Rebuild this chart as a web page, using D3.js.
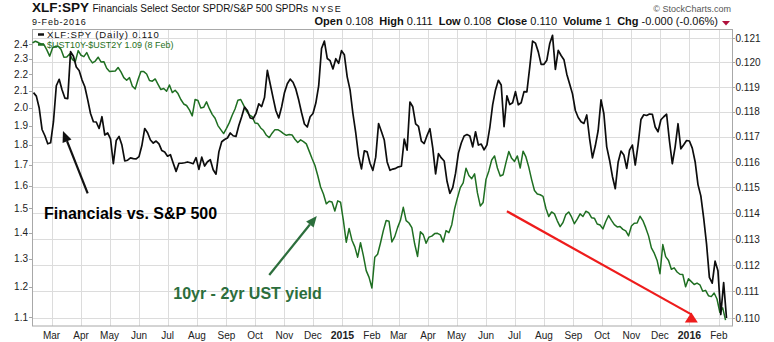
<!DOCTYPE html>
<html>
<head>
<meta charset="utf-8">
<script src="https://cdn.jsdelivr.net/npm/d3@7"></script>
<style>
  html, body { margin: 0; padding: 0; background: #fff; }
  svg { display: block; }
  text { font-family: "Liberation Sans", Arial, Helvetica, sans-serif; }
</style>
</head>
<body>
<svg id="chart" width="774" height="342"></svg>
<script>
// ---- data -------------------------------------------------------------
// Samples every 3 calendar days, counted back from the last date of each series.
const stepDays = 3;
const ratioEnd = "2016-02-09";   // XLF:SPY, right axis
const spreadEnd = "2016-02-08";  // $UST10Y-$UST2Y, left axis

const ratioValues = [
  0.11877, 0.11863, 0.11815, 0.11729, 0.11704, 0.11672, 0.11676, 0.1176, 0.11905, 0.11931,
  0.11889, 0.11855, 0.11853, 0.12044, 0.12025, 0.11981, 0.11967, 0.11929, 0.11901, 0.11849,
  0.11793, 0.1176, 0.11759, 0.11733, 0.1178, 0.11707, 0.11715, 0.11692, 0.11593, 0.11685,
  0.11701, 0.11667, 0.11604, 0.11607, 0.11616, 0.11613, 0.11612, 0.11621, 0.11665, 0.11733,
  0.11716, 0.11687, 0.11675, 0.11683, 0.11672, 0.11645, 0.11639, 0.11623, 0.11629, 0.11595,
  0.11563, 0.11595, 0.11595, 0.11597, 0.116, 0.11597, 0.11593, 0.11617, 0.11571, 0.11619,
  0.11584, 0.11601, 0.11609, 0.11569, 0.11552, 0.1164, 0.1168, 0.11689, 0.11695, 0.11715,
  0.11704, 0.11701, 0.11745, 0.1178, 0.11819, 0.11805, 0.11775, 0.11772, 0.11793, 0.11832,
  0.11821, 0.11857, 0.11967, 0.11912, 0.11857, 0.11804, 0.11775, 0.11819, 0.11877, 0.11913,
  0.11932, 0.11919, 0.11891, 0.11847, 0.11796, 0.11751, 0.11739, 0.1178, 0.11793, 0.11835,
  0.11904, 0.12057, 0.12087, 0.12016, 0.12007, 0.11973, 0.12015, 0.11996, 0.12048, 0.12031,
  0.11941, 0.11888, 0.11793, 0.11715, 0.11623, 0.11573, 0.11644, 0.1164, 0.11595, 0.11567,
  0.11619, 0.11753, 0.11721, 0.11687, 0.116, 0.11567, 0.11572, 0.11575, 0.11581, 0.11583,
  0.11691, 0.11647, 0.11839, 0.1182, 0.11751, 0.11741, 0.11683, 0.11673, 0.11705, 0.11732,
  0.11656, 0.11553, 0.11633, 0.11616, 0.11604, 0.11524, 0.11477, 0.11499, 0.11556, 0.11635,
  0.11675, 0.11703, 0.11709, 0.11703, 0.1166, 0.1172, 0.11667, 0.11671, 0.11648, 0.11668,
  0.11736, 0.11828, 0.11888, 0.11927, 0.11908, 0.1174, 0.11864, 0.11829, 0.11836, 0.11881,
  0.11828, 0.11836, 0.11881, 0.1188, 0.1198, 0.12087, 0.12079, 0.12043, 0.11992, 0.11992,
  0.12009, 0.12076, 0.12111, 0.11971, 0.12049, 0.12028, 0.12011, 0.11952, 0.11912, 0.11872,
  0.11805, 0.11777, 0.1176, 0.11753, 0.11787, 0.11692, 0.11616, 0.11664, 0.11725, 0.11848,
  0.11792, 0.1166, 0.11607, 0.11543, 0.11495, 0.11599, 0.11643, 0.11628, 0.11575, 0.11647,
  0.11667, 0.11588, 0.11669, 0.11769, 0.11788, 0.11785, 0.11791, 0.1179, 0.11739, 0.1172,
  0.11768, 0.1178, 0.1179, 0.11683, 0.11593, 0.1166, 0.11752, 0.11652, 0.11668, 0.11685,
  0.11683, 0.11655, 0.11601, 0.11511, 0.11467, 0.1138, 0.11281, 0.11153, 0.11131, 0.11215,
  0.11178, 0.11013, 0.11133, 0.110
];

const spreadValues = [
  2.407, 2.419, 2.410, 2.400, 2.396, 2.360, 2.318, 2.373, 2.384, 2.384,
  2.362, 2.311, 2.313, 2.333, 2.295, 2.282, 2.355, 2.324, 2.315, 2.342,
  2.300, 2.274, 2.286, 2.311, 2.280, 2.282, 2.239, 2.218, 2.220, 2.222,
  2.244, 2.216, 2.180, 2.164, 2.180, 2.127, 2.111, 2.168, 2.218, 2.218,
  2.203, 2.162, 2.158, 2.172, 2.139, 2.107, 2.113, 2.097, 2.135, 2.089,
  2.103, 2.083, 2.048, 2.022, 2.013, 1.988, 1.954, 2.048, 2.042, 1.999,
  2.003, 2.034, 1.995, 1.963, 1.941, 1.901, 1.879, 1.858, 1.886, 1.917,
  1.958, 1.993, 2.044, 2.048, 2.015, 1.982, 1.960, 1.950, 1.915, 1.912,
  1.888, 1.874, 1.849, 1.837, 1.860, 1.879, 1.879, 1.870, 1.858, 1.849,
  1.853, 1.851, 1.828, 1.811, 1.825, 1.816, 1.804, 1.767, 1.730, 1.697,
  1.648, 1.595, 1.563, 1.520, 1.531, 1.528, 1.489, 1.533, 1.527, 1.449,
  1.362, 1.417, 1.370, 1.344, 1.305, 1.360, 1.311, 1.256, 1.232, 1.195,
  1.305, 1.316, 1.359, 1.408, 1.449, 1.446, 1.363, 1.384, 1.420, 1.450,
  1.505, 1.449, 1.439, 1.420, 1.355, 1.308, 1.403, 1.392, 1.358, 1.382,
  1.386, 1.396, 1.397, 1.391, 1.363, 1.408, 1.400, 1.432, 1.499, 1.547,
  1.592, 1.614, 1.683, 1.648, 1.633, 1.656, 1.568, 1.511, 1.526, 1.630,
  1.670, 1.723, 1.743, 1.684, 1.646, 1.652, 1.710, 1.765, 1.731, 1.716,
  1.743, 1.684, 1.767, 1.738, 1.688, 1.629, 1.579, 1.563, 1.560, 1.553,
  1.501, 1.466, 1.485, 1.477, 1.448, 1.424, 1.441, 1.474, 1.485, 1.464,
  1.436, 1.455, 1.477, 1.466, 1.488, 1.482, 1.461, 1.459, 1.435, 1.431,
  1.415, 1.445, 1.470, 1.450, 1.432, 1.423, 1.425, 1.413, 1.407, 1.387,
  1.427, 1.438, 1.439, 1.467, 1.449, 1.420, 1.387, 1.340, 1.320, 1.293,
  1.245, 1.353, 1.307, 1.293, 1.261, 1.266, 1.251, 1.243, 1.242, 1.199,
  1.227, 1.217, 1.207, 1.212, 1.206, 1.184, 1.187, 1.169, 1.166, 1.178,
  1.158, 1.115, 1.129, 1.09
];

const rightTicks = [0.110, 0.111, 0.112, 0.113, 0.114, 0.115, 0.116, 0.117, 0.118, 0.119, 0.120, 0.121];
const leftTicks = [1.1, 1.2, 1.3, 1.4, 1.5, 1.6, 1.7, 1.8, 1.9, 2.0, 2.1, 2.2, 2.3, 2.4];

const quote = [
  ["Open", "0.108"], ["High", "0.111"], ["Low", "0.108"],
  ["Close", "0.110"], ["Volume", "1"], ["Chg", "-0.000 (-0.06%)"]
];

// Call-outs, placed in (date, XLF:SPY value) terms
const notes = [
  { text: "Financials vs. S&P 500", date: "2014-02-21", value: 0.11376, color: "#000000" },
  { text: "10yr - 2yr UST yield", date: "2014-07-07", value: 0.11071, color: "#2c6e3c" }
];
const arrows = [
  { from: ["2014-04-08", 0.11477], to: ["2014-03-13", 0.11723], color: "#111111", head: "along" },
  { from: ["2014-10-16", 0.11162], to: ["2014-12-05", 0.11389], color: "#2c6e3c", head: "along" },
  { from: ["2015-06-23", 0.11407], to: ["2016-01-03", 0.11021], color: "#ee1c1c", head: "upright" }
];

// ---- setup ------------------------------------------------------------
const parse = d3.timeParse("%Y-%m-%d");
function dated(values, end) {
  const e = parse(end), n = values.length;
  return values.map((v, i) => ({ date: d3.timeDay.offset(e, -(n - 1 - i) * stepDays), value: v }));
}
const ratio = dated(ratioValues, ratioEnd);
const spread = dated(spreadValues, spreadEnd);

const box = { left: 32, right: 732, top: 29.5, bottom: 326 };

const x = d3.scaleTime()
  .domain([ratio[0].date, ratio[ratio.length - 1].date])
  .range([33.5, 726.5]);
const yR = d3.scaleLog().domain([0.110, 0.121]).range([318, 38]);
const yL = d3.scaleLog().domain([1.1, 2.4]).range([317, 44]);

const svg = d3.select("#chart");
const crisp = v => Math.round(v) + 0.5;

svg.append("defs").append("clipPath").attr("id", "plot-clip")
  .append("rect")
  .attr("x", box.left).attr("y", box.top)
  .attr("width", box.right - box.left).attr("height", box.bottom - box.top);

// ---- grid -------------------------------------------------------------
const months = d3.timeMonth.range(d3.timeMonth.ceil(x.domain()[0]), x.domain()[1]);
const grid = svg.append("g").attr("stroke", "#dcdcdc").attr("stroke-width", 1);
grid.selectAll("line.v").data(months).join("line")
  .attr("class", "v")
  .attr("x1", d => crisp(x(d))).attr("x2", d => crisp(x(d)))
  .attr("y1", box.top).attr("y2", box.bottom);
grid.selectAll("line.h").data(rightTicks).join("line")
  .attr("class", "h")
  .attr("x1", box.left).attr("x2", box.right)
  .attr("y1", d => crisp(yR(d))).attr("y2", d => crisp(yR(d)));

svg.append("rect")
  .attr("x", box.left + 0.5).attr("y", box.top)
  .attr("width", box.right - box.left).attr("height", box.bottom - box.top)
  .attr("fill", "none").attr("stroke", "#a8a8a8");

// ---- series -----------------------------------------------------------
const plot = svg.append("g").attr("clip-path", "url(#plot-clip)");
plot.append("path")
  .datum(spread)
  .attr("fill", "none").attr("stroke", "#1f6f22").attr("stroke-width", 1.5)
  .attr("stroke-linejoin", "round")
  .attr("d", d3.line().x(d => x(d.date)).y(d => yL(d.value)));
plot.append("path")
  .datum(ratio)
  .attr("fill", "none").attr("stroke", "#0d0d0d").attr("stroke-width", 1.7)
  .attr("stroke-linejoin", "round")
  .attr("d", d3.line().x(d => x(d.date)).y(d => yR(d.value)));

// ---- axes -------------------------------------------------------------
const axisText = { size: 10, color: "#222" };

const rightAxis = svg.append("g");
rightAxis.selectAll("line").data(rightTicks).join("line")
  .attr("x1", box.right).attr("x2", box.right + 3)
  .attr("y1", d => crisp(yR(d))).attr("y2", d => crisp(yR(d)))
  .attr("stroke", "#a8a8a8");
rightAxis.selectAll("text").data(rightTicks).join("text")
  .attr("x", box.right + 3.5).attr("y", d => yR(d)).attr("dy", "0.36em")
  .attr("font-size", axisText.size).attr("fill", axisText.color)
  .text(d3.format(".3f"));

const leftAxis = svg.append("g");
leftAxis.selectAll("line").data(leftTicks).join("line")
  .attr("x1", box.left - 3).attr("x2", box.left)
  .attr("y1", d => crisp(yL(d))).attr("y2", d => crisp(yL(d)))
  .attr("stroke", "#a8a8a8");
leftAxis.selectAll("text").data(leftTicks).join("text")
  .attr("x", box.left - 4).attr("y", d => yL(d)).attr("dy", "0.36em")
  .attr("text-anchor", "end")
  .attr("font-size", axisText.size).attr("fill", axisText.color)
  .text(d3.format(".1f"));

svg.append("g").selectAll("text").data(months).join("text")
  .attr("x", d => x(d)).attr("y", 338.5)
  .attr("text-anchor", "middle")
  .attr("font-size", d => d.getMonth() === 0 ? 10.5 : 10)
  .attr("font-weight", d => d.getMonth() === 0 ? "bold" : "normal")
  .attr("fill", axisText.color)
  .text(d => d.getMonth() === 0 ? d3.timeFormat("%Y")(d) : d3.timeFormat("%b")(d));

// ---- header -----------------------------------------------------------
const head = svg.append("g");
const title = head.append("text").attr("x", 32).attr("y", 12).attr("fill", "#111");
title.append("tspan").attr("font-size", 13.5).attr("font-weight", "bold").text("XLF:SPY");
title.append("tspan").attr("font-size", 10).attr("dx", 3.5).text("Financials Select Sector SPDR/S&P 500 SPDRs");
title.append("tspan").attr("font-size", 9).attr("dx", 4).attr("letter-spacing", 1.4).text("NYSE");

head.append("text").attr("x", 32).attr("y", 24.5)
  .attr("font-size", 9).attr("letter-spacing", 0.8).attr("fill", "#111")
  .text("9-Feb-2016");

head.append("text").attr("x", 731).attr("y", 11.5).attr("text-anchor", "end")
  .attr("font-family", "DejaVu Sans, sans-serif").attr("font-size", 9).attr("fill", "#555")
  .text("\u00A9 StockCharts.com");

const q = head.append("text").attr("x", 718).attr("y", 24.5).attr("text-anchor", "end")
  .attr("font-size", 11).attr("fill", "#111").style("white-space", "pre");
quote.forEach(([label, val], i) => {
  q.append("tspan").attr("font-weight", "bold").attr("dx", i === 0 ? 0 : 6).text(label);
  q.append("tspan").text(" " + val);
});
head.append("path")
  .attr("d", "M722,21 L730,21 L726,25.5 Z")
  .attr("fill", "#b0103c");

// ---- legend -----------------------------------------------------------
const legend = svg.append("g").attr("font-family", "DejaVu Sans, sans-serif");
legend.append("line").attr("x1", 38).attr("x2", 44).attr("y1", 34.5).attr("y2", 34.5)
  .attr("stroke", "#111").attr("stroke-width", 2.5);
legend.append("text").attr("x", 47).attr("y", 37.8).attr("font-size", 9.5)
  .attr("letter-spacing", 0.85).attr("fill", "#111")
  .text("XLF:SPY (Daily) 0.110");
legend.append("line").attr("x1", 38).attr("x2", 44).attr("y1", 44.5).attr("y2", 44.5)
  .attr("stroke", "#1f6f22").attr("stroke-width", 2.5);
legend.append("text").attr("x", 47).attr("y", 47.8).attr("font-size", 9).attr("fill", "#1f6f22")
  .text("$UST10Y-$UST2Y 1.09 (8 Feb)");

// ---- call-outs --------------------------------------------------------
const notesG = svg.append("g");
arrows.forEach(a => {
  const x0 = x(parse(a.from[0])), y0 = yR(a.from[1]);
  const x1 = x(parse(a.to[0])), y1 = yR(a.to[1]);
  if (a.head === "along") {
    const ang = Math.atan2(y1 - y0, x1 - x0), len = 11, half = 4.8;
    const bx = x1 - len * Math.cos(ang), by = y1 - len * Math.sin(ang);
    notesG.append("line").attr("x1", x0).attr("y1", y0).attr("x2", bx).attr("y2", by)
      .attr("stroke", a.color).attr("stroke-width", 2.2);
    const px = -Math.sin(ang) * half, py = Math.cos(ang) * half;
    notesG.append("path")
      .attr("d", `M${x1},${y1}L${bx + px},${by + py}L${bx - px},${by - py}Z`)
      .attr("fill", a.color);
  } else {
    notesG.append("line").attr("x1", x0).attr("y1", y0).attr("x2", x1).attr("y2", y1 + 2)
      .attr("stroke", a.color).attr("stroke-width", 2.2);
    notesG.append("path")
      .attr("d", `M${x1},${y1}L${x1 - 6.5},${y1 + 10}L${x1 + 6.5},${y1 + 10}Z`)
      .attr("fill", a.color);
  }
});
notesG.selectAll("text").data(notes).join("text")
  .attr("x", d => x(parse(d.date))).attr("y", d => yR(d.value))
  .attr("font-size", 16).attr("font-weight", "bold")
  .attr("fill", d => d.color)
  .text(d => d.text);
</script>
</body>
</html>
